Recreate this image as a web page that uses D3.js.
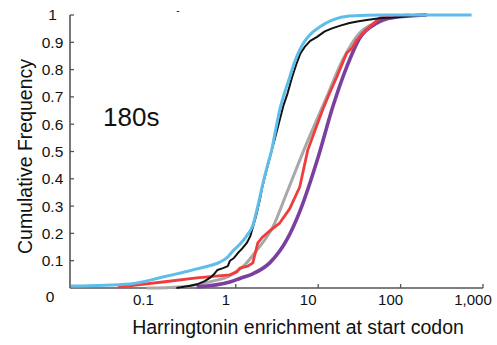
<!DOCTYPE html>
<html>
<head>
<meta charset="utf-8">
<script src="https://cdn.jsdelivr.net/npm/d3@7"></script>
<style>
  body { margin: 0; background: #fff; }
  text { font-family: "Liberation Sans", Arial, sans-serif; fill: #111; }
</style>
</head>
<body>
<div id="chart"></div>
<script>
// values, x = enrichment, F = cumulative frequency
const blueX  = [0.01, 0.052, 0.13, 0.336, 0.64, 0.778, 0.92, 1.12, 1.35, 1.61, 1.85, 2.12, 2.4, 2.7, 3.05, 3.41, 3.9, 4.52, 5.2, 5.97, 6.9, 7.89, 10.4, 15, 24, 60, 727]
const blueF  = [0.007, 0.015, 0.04, 0.07, 0.095, 0.11, 0.135, 0.16, 0.19, 0.23, 0.3, 0.38, 0.445, 0.5, 0.58, 0.652, 0.715, 0.773, 0.83, 0.872, 0.905, 0.927, 0.956, 0.982, 0.996, 1, 1]

const blackX = [0.19, 0.28, 0.35, 0.42, 0.5, 0.56, 0.6, 0.7, 0.8, 0.85, 0.95, 1.06, 1.2, 1.36, 1.5, 1.61, 1.75, 1.95, 2.1, 2.25, 2.45, 2.73, 3.0, 3.41, 3.8, 4.26, 4.8, 5.49, 6.1, 6.86, 8, 9.6, 12, 15, 19, 24, 31, 39, 50, 60, 80, 97, 130, 170]
const blackF = [0, 0.008, 0.015, 0.025, 0.04, 0.055, 0.066, 0.073, 0.08, 0.1, 0.11, 0.128, 0.145, 0.165, 0.19, 0.223, 0.26, 0.32, 0.37, 0.407, 0.45, 0.505, 0.55, 0.615, 0.67, 0.714, 0.77, 0.824, 0.86, 0.883, 0.905, 0.919, 0.94, 0.952, 0.962, 0.971, 0.977, 0.982, 0.986, 0.989, 0.991, 0.993, 0.997, 1]

const grayX  = [0.083, 0.21, 0.526, 0.846, 1.03, 1.22, 1.8, 2.81, 4.15, 6.7, 12.7, 19.8, 31.8, 51.2, 80, 207]
const grayF  = [0, 0.004, 0.025, 0.045, 0.062, 0.078, 0.139, 0.223, 0.348, 0.505, 0.7, 0.835, 0.934, 0.974, 0.993, 1]

const redX   = [0.037, 0.13, 0.336, 0.846, 1.03, 1.12, 1.4, 1.61, 1.85, 2.12, 2.6, 3.41, 4.5, 5.97, 7.47, 9.2, 11.3, 13.8, 16.8, 19.5, 22.2, 26, 29.3, 34, 38.7, 44.5, 55.6, 80, 128]
const redF   = [0.003, 0.022, 0.037, 0.048, 0.059, 0.073, 0.08, 0.092, 0.165, 0.187, 0.21, 0.238, 0.29, 0.37, 0.505, 0.58, 0.652, 0.715, 0.773, 0.82, 0.861, 0.88, 0.908, 0.93, 0.945, 0.963, 0.989, 0.996, 1]

const purpleX = [0.336, 0.846, 1.12, 1.61, 2.58, 4.15, 5.97, 10, 15, 22.2, 31.8, 51.2, 80, 207]
const purpleF = [0.004, 0.022, 0.035, 0.052, 0.092, 0.176, 0.28, 0.48, 0.663, 0.81, 0.915, 0.97, 0.99, 1]

const xTicks = [1, 10, 100, 1000]
const xLabelValues = [0.1, 1, 10, 100, 1000]
const xLabelTexts = ['0.1', '1', '10', '100', '1,000']
const yTicks = [0.1, 0.2, 0.3, 0.4, 0.5, 0.6, 0.7, 0.8, 0.9, 1]
const yTickLabels = ['0.1', '0.2', '0.3', '0.4', '0.5', '0.6', '0.7', '0.8', '0.9', '1']

const width = 497, height = 345
const axisColor = '#555'

// smooth fits drawn smooth, the raw ones jagged
const series = [
  { name: 'gray',   xs: grayX,   fs: grayF,   color: '#a8a8a8', w: 3,   smooth: true },
  { name: 'purple', xs: purpleX, fs: purpleF, color: '#7b3fa0', w: 3.6, smooth: true },
  { name: 'red',    xs: redX,    fs: redF,    color: '#ef3d3d', w: 2.8, smooth: false },
  { name: 'black',  xs: blackX,  fs: blackF,  color: '#111',    w: 2,   smooth: false },
  { name: 'blue',   xs: blueX,   fs: blueF,   color: '#5fbde9', w: 3,   smooth: true }
]

const xScale = d3.scaleLog().domain([0.01, 1000]).range([71, 483])
const yScale = d3.scaleLinear().domain([0, 1]).range([288, 15])

const svg = d3.select('#chart').append('svg')
  .attr('width', width)
  .attr('height', height)

// axes lines
svg.append('line')
  .attr('x1', 70).attr('x2', 70)
  .attr('y1', yScale(1)).attr('y2', yScale(0))
  .attr('stroke', axisColor).attr('stroke-width', 1.6)
svg.append('line')
  .attr('x1', 70).attr('x2', xScale(1000))
  .attr('y1', yScale(0)).attr('y2', yScale(0))
  .attr('stroke', axisColor).attr('stroke-width', 1.6)

// y ticks point inward
svg.append('g').selectAll('line')
  .data(yTicks).enter()
  .append('line')
  .attr('x1', 70).attr('x2', 74)
  .attr('y1', d => yScale(d)).attr('y2', d => yScale(d))
  .attr('stroke', axisColor).attr('stroke-width', 1.3)

svg.append('g').selectAll('text')
  .data(yTicks).enter()
  .append('text')
  .attr('x', 52.5)
  .attr('y', d => yScale(d))
  .attr('dy', '0.35em')
  .attr('text-anchor', 'middle')
  .style('font-size', '15.5px')
  .text((d, i) => yTickLabels[i])

svg.append('text')
  .attr('x', 50)
  .attr('y', yScale(0) + 9)
  .attr('dy', '0.35em')
  .attr('text-anchor', 'middle')
  .style('font-size', '15.5px')
  .text('0')

// x ticks point up
svg.append('g').selectAll('line')
  .data(xTicks).enter()
  .append('line')
  .attr('x1', d => xScale(d)).attr('x2', d => xScale(d))
  .attr('y1', yScale(0)).attr('y2', yScale(0) - 4)
  .attr('stroke', axisColor).attr('stroke-width', 1.3)

svg.append('g').selectAll('text')
  .data(xLabelValues).enter()
  .append('text')
  .attr('x', d => xScale(d) - 10)
  .attr('y', yScale(0) + 12)
  .attr('dy', '0.35em')
  .attr('text-anchor', 'middle')
  .style('font-size', '15px')
  .text((d, i) => xLabelTexts[i])

// curves
const smoothLine = d3.line()
  .x(d => xScale(d[0]))
  .y(d => yScale(d[1]))
  .curve(d3.curveMonotoneX)
const rawLine = d3.line()
  .x(d => xScale(d[0]))
  .y(d => yScale(d[1]))

svg.append('g').selectAll('path')
  .data(series).enter()
  .append('path')
  .attr('d', s => (s.smooth ? smoothLine : rawLine)(s.xs.map((x, i) => [x, s.fs[i]])))
  .attr('fill', 'none')
  .attr('stroke', s => s.color)
  .attr('stroke-width', s => s.w)
  .attr('stroke-linejoin', 'round')

// titles
svg.append('text')
  .attr('x', 103)
  .attr('y', 126)
  .style('font-size', '26px')
  .text('180s')

svg.append('text')
  .attr('transform', `translate(32, ${(yScale(0) + yScale(1)) / 2 + 5}) rotate(-90)`)
  .attr('text-anchor', 'middle')
  .style('font-size', '19.5px')
  .text('Cumulative Frequency')

svg.append('text')
  .attr('x', 298)
  .attr('y', 334)
  .attr('text-anchor', 'middle')
  .style('font-size', '19.5px')
  .text('Harringtonin enrichment at start codon')

svg.append('text')
  .attr('x', 178)
  .attr('y', 14)
  .attr('text-anchor', 'middle')
  .style('font-size', '10px')
  .text('-')
</script>
</body>
</html>
